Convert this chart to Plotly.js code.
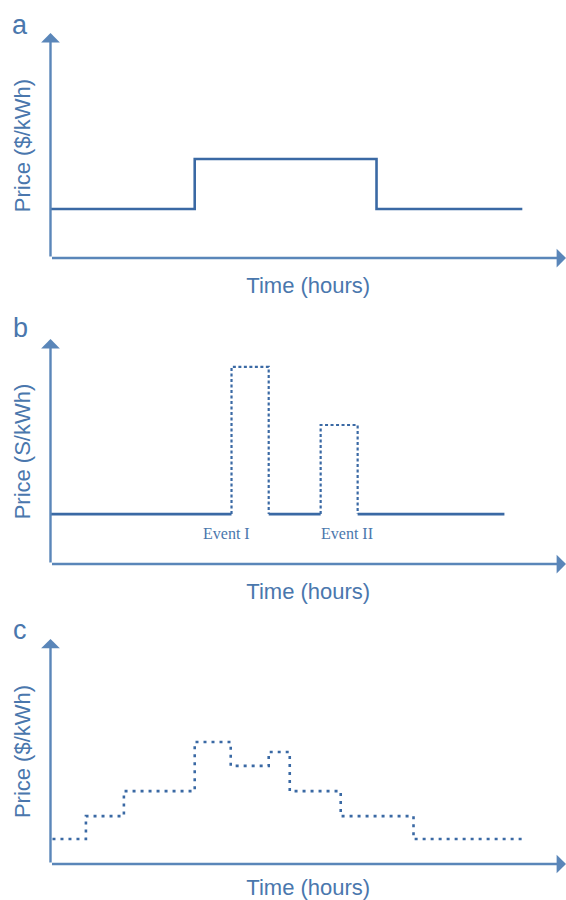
<!DOCTYPE html>
<html><head><meta charset="utf-8">
<script src="https://cdn.plot.ly/plotly-3.0.1.min.js"></script>
<style>html,body{margin:0;padding:0;background:#fff}#chart{width:566px;height:900px}</style>
</head><body><div id="chart"></div>
<script>
// ---- Data (x: hours, y: relative price) ----
// Panel a: two-level time-of-use price
const aTimes  = [0, 7.33, 16.57, 23.98];
const aPrices = [2.18, 4.40, 2.18, 2.18];
// Panel b: flat price with critical-peak events
const bStartTime = 0;
const bEndTime = 23.07;
const bBaseline = 2.22;
const eventNames = ['Event I', 'Event II'];
const eventStart = [9.2, 13.73];
const eventEnd   = [11.09, 15.61];
const eventPeak  = [8.76, 6.18];
// Panel c: real-time price
const cTimes  = [0.1, 1.8, 3.73, 7.33, 9.16, 11.09, 12.16, 14.75, 18.45, 23.98];
const cPrices = [1.11, 2.13, 3.24, 5.42, 4.36, 4.98, 3.24, 2.13, 1.11, 1.11];
// Labels
const panelLabels = ['a', 'b', 'c'];
const xTitle = 'Time (hours)';
const yTitles = ['Price ($/kWh)', 'Price (S/kWh)', 'Price ($/kWh)'];
const xMax = 26.2, yMax = 10;

// ---- Styles ----
const LINE = '#3a69a4';
const AXIS = '#5a86b9';
const TEXT = '#4a77ad';
const SANS = 'Liberation Sans, Arial, sans-serif';

const traces = [];
// a
traces.push({x: aTimes, y: aPrices, xaxis: 'x', yaxis: 'y', mode: 'lines',
  line: {shape: 'hv', color: LINE, width: 2.6}});
// b baseline segments
const bx = [], by = [];
const segStarts = [bStartTime].concat(eventEnd);
const segEnds = eventStart.concat([bEndTime]);
for (let i = 0; i < segStarts.length; i++) {
  bx.push(segStarts[i], segEnds[i], null);
  by.push(bBaseline, bBaseline, null);
}
traces.push({x: bx, y: by, xaxis: 'x2', yaxis: 'y2', mode: 'lines',
  line: {color: LINE, width: 2.6}});
for (let i = 0; i < eventStart.length; i++) {
  traces.push({x: [eventStart[i], eventStart[i], eventEnd[i], eventEnd[i]],
    y: [bBaseline, eventPeak[i], eventPeak[i], bBaseline],
    xaxis: 'x2', yaxis: 'y2', mode: 'lines',
    line: {color: LINE, width: 2.2, dash: '3px,2.5px'}});
}
// c
traces.push({x: cTimes, y: cPrices, xaxis: 'x3', yaxis: 'y3', mode: 'lines',
  line: {shape: 'hv', color: LINE, width: 2.6, dash: '3px,5px'}});

const yDomains = [[0.7133, 0.9633], [0.3733, 0.6233], [0.04, 0.29]];
const layout = {
  width: 566, height: 900,
  margin: {l: 0, r: 0, t: 0, b: 0},
  paper_bgcolor: '#fff', plot_bgcolor: '#fff',
  showlegend: false,
  annotations: []
};
const axIds = ['', '2', '3'];
const labelTop = [25, 328, 630];
for (let i = 0; i < 3; i++) {
  const s = axIds[i];
  layout['xaxis' + s] = {domain: [50.5 / 566, 1], range: [0, xMax], anchor: 'y' + s,
    showgrid: false, zeroline: false, showline: false, showticklabels: false, ticks: '',
    fixedrange: true, automargin: false,
    title: {text: xTitle, standoff: 19, font: {family: SANS, size: 22, color: TEXT}}};
  layout['yaxis' + s] = {domain: yDomains[i], range: [0, yMax], anchor: 'x' + s,
    showgrid: false, zeroline: false, showline: false, showticklabels: false, ticks: '',
    fixedrange: true, automargin: false,
    title: {text: yTitles[i], standoff: 12, font: {family: SANS, size: 22, color: TEXT}}};
  // axis arrows
  layout.annotations.push({xref: 'x' + s, yref: 'y' + s, axref: 'x' + s, ayref: 'y' + s,
    x: 0, y: yMax, ax: 0, ay: 0, text: '', showarrow: true, arrowhead: 1,
    arrowsize: 1.3, arrowwidth: 2.4, arrowcolor: AXIS, standoff: 0});
  layout.annotations.push({xref: 'x' + s, yref: 'y' + s, axref: 'x' + s, ayref: 'y' + s,
    x: xMax, y: 0, ax: 0, ay: 0, text: '', showarrow: true, arrowhead: 1,
    arrowsize: 1.3, arrowwidth: 2.4, arrowcolor: AXIS, standoff: 0});
  // panel letter
  layout.annotations.push({xref: 'paper', yref: 'paper', x: 20 / 566, y: 1 - labelTop[i] / 900,
    text: panelLabels[i], showarrow: false, xanchor: 'center', yanchor: 'middle',
    font: {family: SANS, size: 27, color: TEXT}});
}
const evShift = [-24, 8];
for (let i = 0; i < eventNames.length; i++) {
  layout.annotations.push({xref: 'x2', yref: 'y2', x: (eventStart[i] + eventEnd[i]) / 2,
    y: bBaseline, yshift: -19, xshift: evShift[i], text: eventNames[i], showarrow: false,
    font: {family: 'Liberation Serif, Times New Roman, serif', size: 16, color: TEXT}});
}
Plotly.newPlot('chart', traces, layout, {displayModeBar: false, staticPlot: true});
</script>
</body></html>
